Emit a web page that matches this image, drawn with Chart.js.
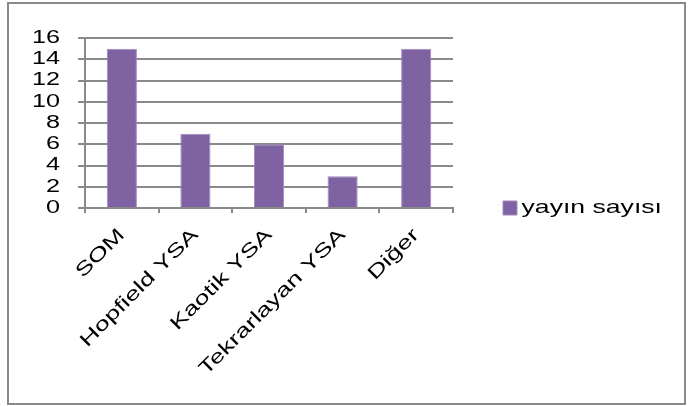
<!DOCTYPE html>
<html lang="tr">
<head>
  <meta charset="UTF-8">
  <title>yayın sayısı</title>
  <script src="https://cdn.jsdelivr.net/npm/chart.js"></script>
  <style>
    body { margin: 0; background: #fff; }
    #wrap { position: relative; width: 688px; height: 406px; }
    #barChart { display: block; }
    #frame {
      position: absolute; left: 7px; top: 2px; width: 675px; height: 399px;
      border: 2px solid #898989; pointer-events: none;
    }
  </style>
</head>
<body>
<div id="wrap">
  <canvas id="barChart" width="688" height="406"></canvas>
  <div id="frame"></div>
</div>

<script>
  const kategoriler = ['SOM', 'Hopfield YSA', 'Kaotik YSA', 'Tekrarlayan YSA', 'Diğer'];
  const yayinSayisi = [15, 7, 6, 3, 15];
  const seriAdi = 'yayın sayısı';
  const yMax = 16;
  const yAdim = 2;

  const canvas = document.getElementById('barChart');
  const ctx = canvas.getContext('2d');

  // yazılar yatayda geniş çizilsin (taban çizgisi boyunca gerilir)
  const GENISLIK = 1.4;
  const fillTextOrj = CanvasRenderingContext2D.prototype.fillText.bind(ctx);
  const measureTextOrj = CanvasRenderingContext2D.prototype.measureText.bind(ctx);
  ctx.fillText = function (text, x, y) {
    ctx.save();
    ctx.translate(x, y);
    ctx.scale(GENISLIK, 1);
    fillTextOrj(text, 0, 0);
    ctx.restore();
  };
  ctx.measureText = function (text) {
    const m = measureTextOrj(text);
    return {
      width: m.width * GENISLIK,
      actualBoundingBoxAscent: m.actualBoundingBoxAscent,
      actualBoundingBoxDescent: m.actualBoundingBoxDescent
    };
  };

  const gri = '#898989';
  const yazi = "'Liberation Sans', Arial, sans-serif";

  const myChart = new Chart(canvas, {
    type: 'bar',
    data: {
      labels: kategoriler,
      datasets: [{
        label: seriAdi,
        data: yayinSayisi,
        backgroundColor: '#7f62a1',
        borderColor: '#9f8abf',
        borderWidth: 1,
        barPercentage: 0.41,
        categoryPercentage: 1
      }]
    },
    options: {
      responsive: false,
      devicePixelRatio: 1,
      animation: false,
      layout: { padding: { left: 14, top: 38, right: 26, bottom: 28 } },
      plugins: {
        tooltip: { enabled: false },
        legend: {
          position: 'right',
          maxWidth: 209,
          labels: {
            boxWidth: 14,
            boxHeight: 14,
            padding: 50,
            textAlign: 'right',
            color: '#000',
            font: { family: yazi, size: 19 }
          }
        }
      },
      scales: {
        x: {
          grid: { display: true, drawOnChartArea: false, offset: true, tickLength: 5, color: gri, lineWidth: 2 },
          border: { color: gri, width: 2 },
          ticks: {
            autoSkip: false,
            minRotation: 45,
            maxRotation: 45,
            padding: 11,
            color: '#000',
            font: { family: yazi, size: 19 }
          }
        },
        y: {
          min: 0,
          max: yMax,
          grid: { color: gri, lineWidth: 2, tickLength: 7 },
          border: { color: gri, width: 2 },
          ticks: {
            stepSize: yAdim,
            autoSkip: false,
            padding: 18,
            color: '#000',
            font: { family: yazi, size: 18 }
          }
        }
      }
    }
  });
</script>
</body>
</html>
